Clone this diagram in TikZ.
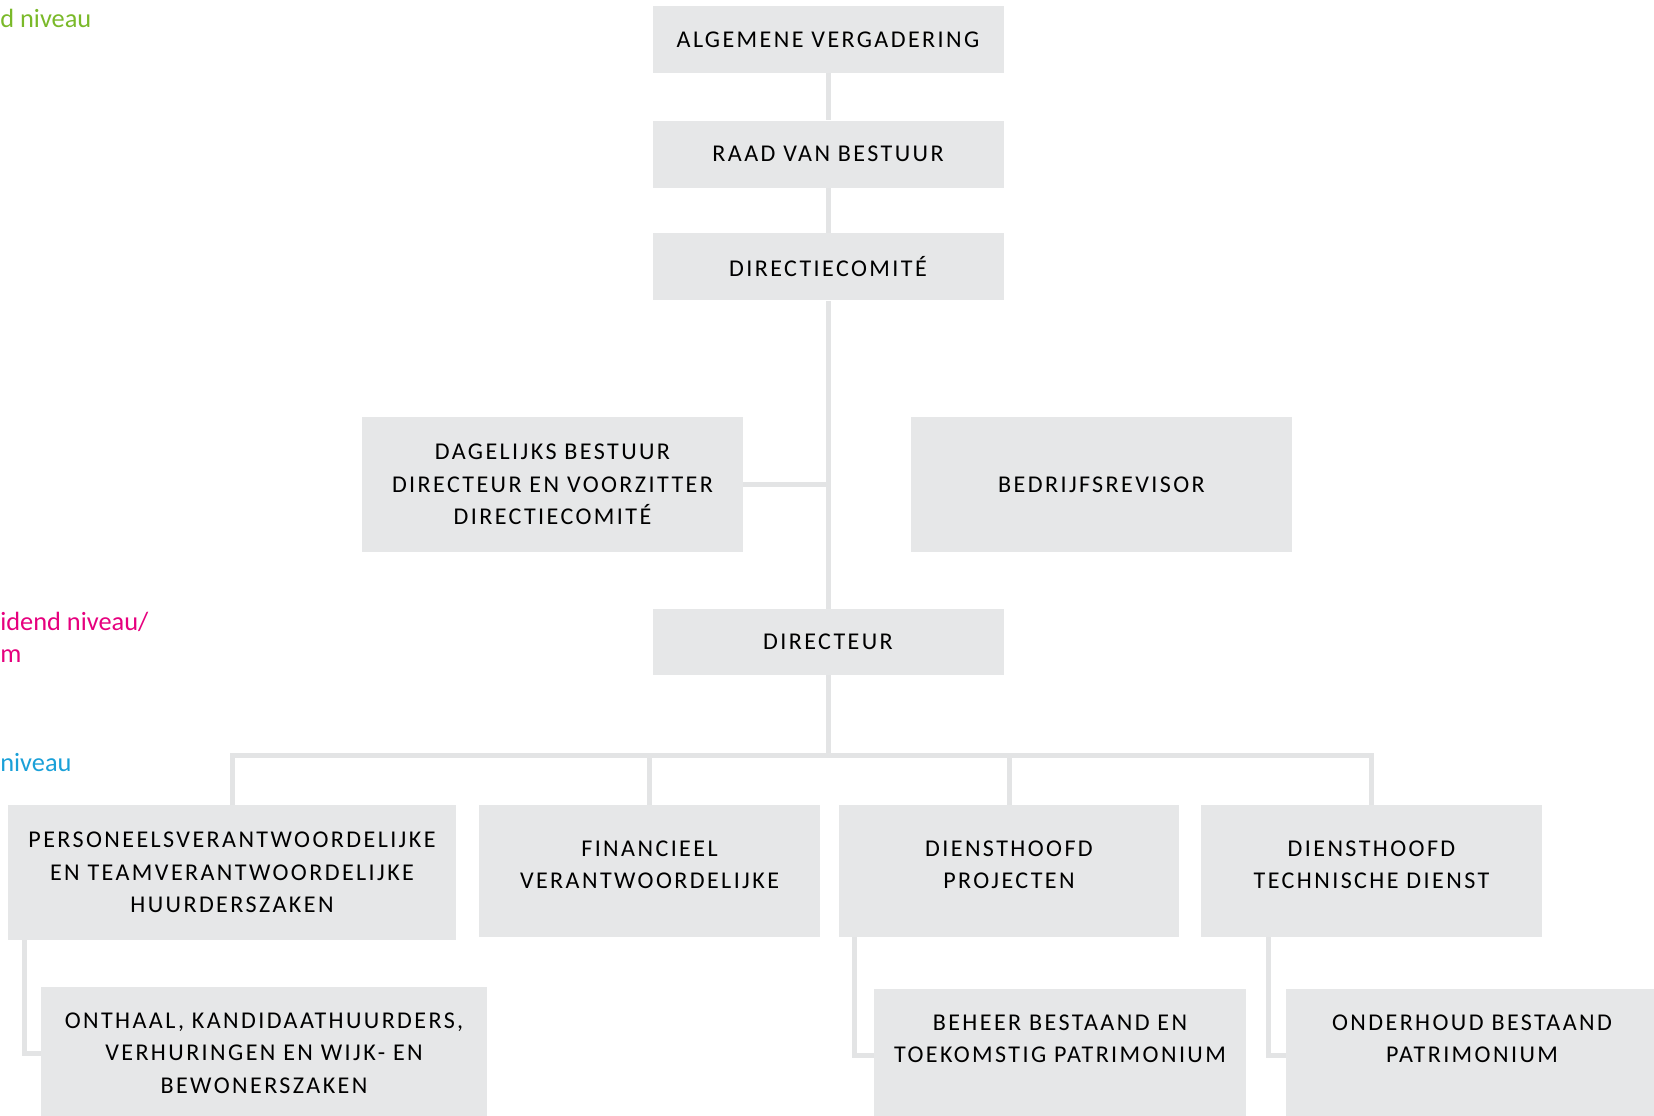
\documentclass[tikz,border=0pt]{standalone}
\usepackage{fontspec}
\setmainfont{Carlito}
\newfontfamily\boxfont{Carlito}[LetterSpace=10]
\usetikzlibrary{positioning,calc}
\definecolor{boxgray}{HTML}{E6E7E8}
\definecolor{linegray}{HTML}{E3E4E5}
\definecolor{lvlgreen}{HTML}{7AB929}
\definecolor{lvlpink}{HTML}{E6007E}
\definecolor{lvlblue}{HTML}{1AA0D8}
\tikzset{
box/.style={rectangle,fill=boxgray,align=center,inner sep=0pt,
  font=\boxfont\fontsize{13.7}{18.6}\selectfont},
top/.style={box,minimum width=7.02cm,minimum height=1.34cm},
mid/.style={box,minimum width=7.62cm,minimum height=2.70cm},
low/.style={box,minimum width=6.82cm,minimum height=2.64cm},
lift/.style={text depth=0.25cm},
conn/.style={draw=linegray,line width=0.1cm},
lvl/.style={anchor=base west,inner sep=0pt,font=\fontsize{15}{19}\selectfont},
}
\begin{document}
\begin{tikzpicture}
	\useasboundingbox (0,0) rectangle (33.08,-22.32);

	% levels on the left
	\node[lvl,text=lvlgreen] (lvla) at (0,-0.55) {d niveau};
	\node[lvl,text=lvlpink] (lvlb) at (0,-12.60) {idend niveau/};
	\node[lvl,text=lvlpink] (lvlc) at (0,-13.24) {m};
	\node[lvl,text=lvlblue] (lvld) at (0,-15.42) {niveau};

	% top of the chart
	\node[top] (alg) at (16.56,-0.79) {ALGEMENE VERGADERING};
	\node[top,below=0.94cm of alg] (raad) {RAAD VAN BESTUUR};
	\node[top,below=0.90cm of raad] (dc) {DIRECTIECOMIT\'E};
	\node[mid] (db) at (11.05,-9.69) {DAGELIJKS BESTUUR\\DIRECTEUR EN VOORZITTER\\DIRECTIECOMIT\'E};
	\node[mid] (rev) at (22.03,-9.69) {BEDRIJFSREVISOR};
	\node[top,minimum height=1.32cm] (dir) at (16.56,-12.84) {DIRECTEUR};
	\coordinate (bus) at (16.56,-15.10);

	% services
	\node[low,minimum width=8.96cm,minimum height=2.70cm] (pers) at (4.64,-17.45)
		{PERSONEELSVERANTWOORDELIJKE\\EN TEAMVERANTWOORDELIJKE\\HUURDERSZAKEN};
	\node[low,lift] (fin) at (12.99,-17.42) {FINANCIEEL\\VERANTWOORDELIJKE};
	\node[low,lift,minimum width=6.80cm] (proj) at (20.18,-17.42) {DIENSTHOOFD\\PROJECTEN};
	\node[low,lift] (tech) at (27.43,-17.42) {DIENSTHOOFD\\TECHNISCHE DIENST};

	\node[low,minimum width=8.92cm] (ont) at (5.28,-21.06)
		{ONTHAAL, KANDIDAATHUURDERS,\\VERHURINGEN EN WIJK- EN\\BEWONERSZAKEN};
	\node[low,minimum width=7.44cm] (beh) at (21.20,-21.10) {BEHEER BESTAAND EN\\TOEKOMSTIG PATRIMONIUM\\\mbox{}};
	\node[low,minimum width=7.44cm] (ond) at (29.44,-21.10) {ONDERHOUD BESTAAND\\PATRIMONIUM\\\mbox{}};

	\draw[conn] (alg) -- (raad);
	\draw[conn] (raad) -- (dc);
	\draw[conn] (dc) -- (dir);
	\draw[conn] (db.east) -- (db.east -| dc.south);
	\draw[conn] (dir) -- (bus);
	\draw[conn] (pers.north) |- (bus);
	\draw[conn] (fin.north) |- (bus);
	\draw[conn] (proj.north) |- (bus);
	\draw[conn] (tech.north) |- (bus);
	\draw[conn] ([xshift=0.34cm]pers.south west) |- (ont.west);
	\draw[conn] ([xshift=0.32cm]proj.south west) |- (beh.west);
	\draw[conn] ([xshift=1.36cm]tech.south west) |- (ond.west);
\end{tikzpicture}
\end{document}
